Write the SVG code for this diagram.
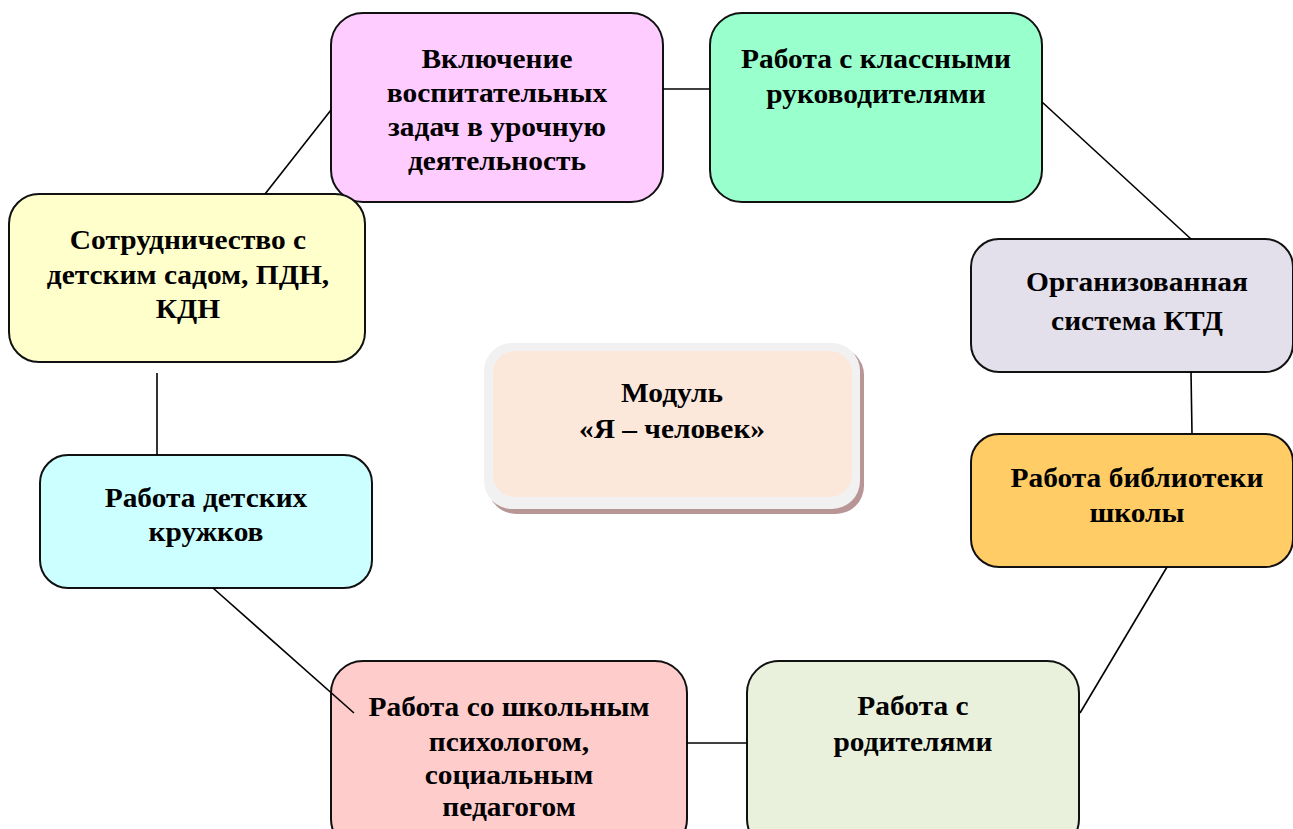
<svg xmlns="http://www.w3.org/2000/svg" width="1293" height="829" viewBox="0 0 1293 829">
<style>
.box{stroke:#111;stroke-width:2}
.t{font-family:"Liberation Serif","Times New Roman",serif;font-weight:bold;font-size:27px;fill:#000;text-anchor:middle}
.c{stroke:#000;stroke-width:1.6;fill:none}
</style>
<rect width="1293" height="829" fill="#fff"/>
<g id="n-lessons">
<rect class="box" x="331" y="13" width="332" height="189" rx="32" fill="#ffccff"/>
<g transform="translate(497 0) scale(1.09 1)">
<text class="t" x="0" y="68">Включение</text>
<text class="t" x="0" y="102">воспитательных</text>
<text class="t" x="0" y="136">задач в урочную</text>
<text class="t" x="0" y="170">деятельность</text>
</g>
</g>
<g id="n-classteachers">
<rect class="box" x="710" y="13" width="332" height="189" rx="32" fill="#99ffcc"/>
<g transform="translate(876 0) scale(1.09 1)">
<text class="t" x="0" y="68">Работа с классными</text>
<text class="t" x="0" y="103">руководителями</text>
</g>
</g>
<g id="n-ktd">
<rect class="box" x="971" y="239" width="322" height="133" rx="28" fill="#e3dfeb"/>
<g transform="translate(1137 0) scale(1.09 1)">
<text class="t" x="0" y="291">Организованная</text>
<text class="t" x="0" y="330">система КТД</text>
</g>
</g>
<g id="n-library">
<rect class="box" x="971" y="434" width="322" height="133" rx="28" fill="#ffcc66"/>
<g transform="translate(1137 0) scale(1.09 1)">
<text class="t" x="0" y="487">Работа библиотеки</text>
<text class="t" x="0" y="522">школы</text>
</g>
</g>
<g id="n-parents">
<rect class="box" x="747" y="661" width="332" height="190" rx="32" fill="#e9f0dc"/>
<g transform="translate(913 0) scale(1.09 1)">
<text class="t" x="0" y="715">Работа с</text>
<text class="t" x="0" y="751">родителями</text>
</g>
</g>
<g id="n-psych">
<rect class="box" x="331" y="661" width="356" height="190" rx="32" fill="#ffcccc"/>
<g transform="translate(509 0) scale(1.09 1)">
<text class="t" x="0" y="716">Работа со школьным</text>
<text class="t" x="0" y="751">психологом,</text>
<text class="t" x="0" y="784">социальным</text>
<text class="t" x="0" y="816">педагогом</text>
</g>
</g>
<g id="n-clubs">
<rect class="box" x="40" y="455" width="332" height="133" rx="28" fill="#ccffff"/>
<g transform="translate(206 0) scale(1.09 1)">
<text class="t" x="0" y="507">Работа детских</text>
<text class="t" x="0" y="541">кружков</text>
</g>
</g>
<g id="n-coop">
<rect class="box" x="9" y="194" width="356" height="168" rx="30" fill="#ffffcc"/>
<g transform="translate(188 0) scale(1.09 1)">
<text class="t" x="0" y="249">Сотрудничество с</text>
<text class="t" x="0" y="284">детским садом, ПДН,</text>
<text class="t" x="0" y="318">КДН</text>
</g>
</g>
<g id="n-center">
<rect x="488" y="347" width="376" height="167" rx="28" fill="#b89696"/>
<rect x="484" y="343" width="376" height="166" rx="28" fill="#f1f1f1"/>
<rect x="493" y="351" width="359" height="146" rx="22" fill="#fce8db"/>
<g transform="translate(672 0) scale(1.09 1)">
<text class="t" x="0" y="402">Модуль</text>
<text class="t" x="0" y="438">«Я – человек»</text>
</g>
</g>
<g id="connectors">
<line class="c" x1="663" y1="89" x2="710" y2="89"/>
<line class="c" x1="1042" y1="102" x2="1191" y2="239"/>
<line class="c" x1="1191" y1="372" x2="1192" y2="434"/>
<line class="c" x1="1167" y1="567" x2="1080" y2="713"/>
<line class="c" x1="687" y1="743" x2="747" y2="743"/>
<line class="c" x1="213" y1="588" x2="354" y2="713"/>
<line class="c" x1="157" y1="373" x2="157" y2="455"/>
<line class="c" x1="265" y1="194" x2="331" y2="110"/>
</g>
</svg>
